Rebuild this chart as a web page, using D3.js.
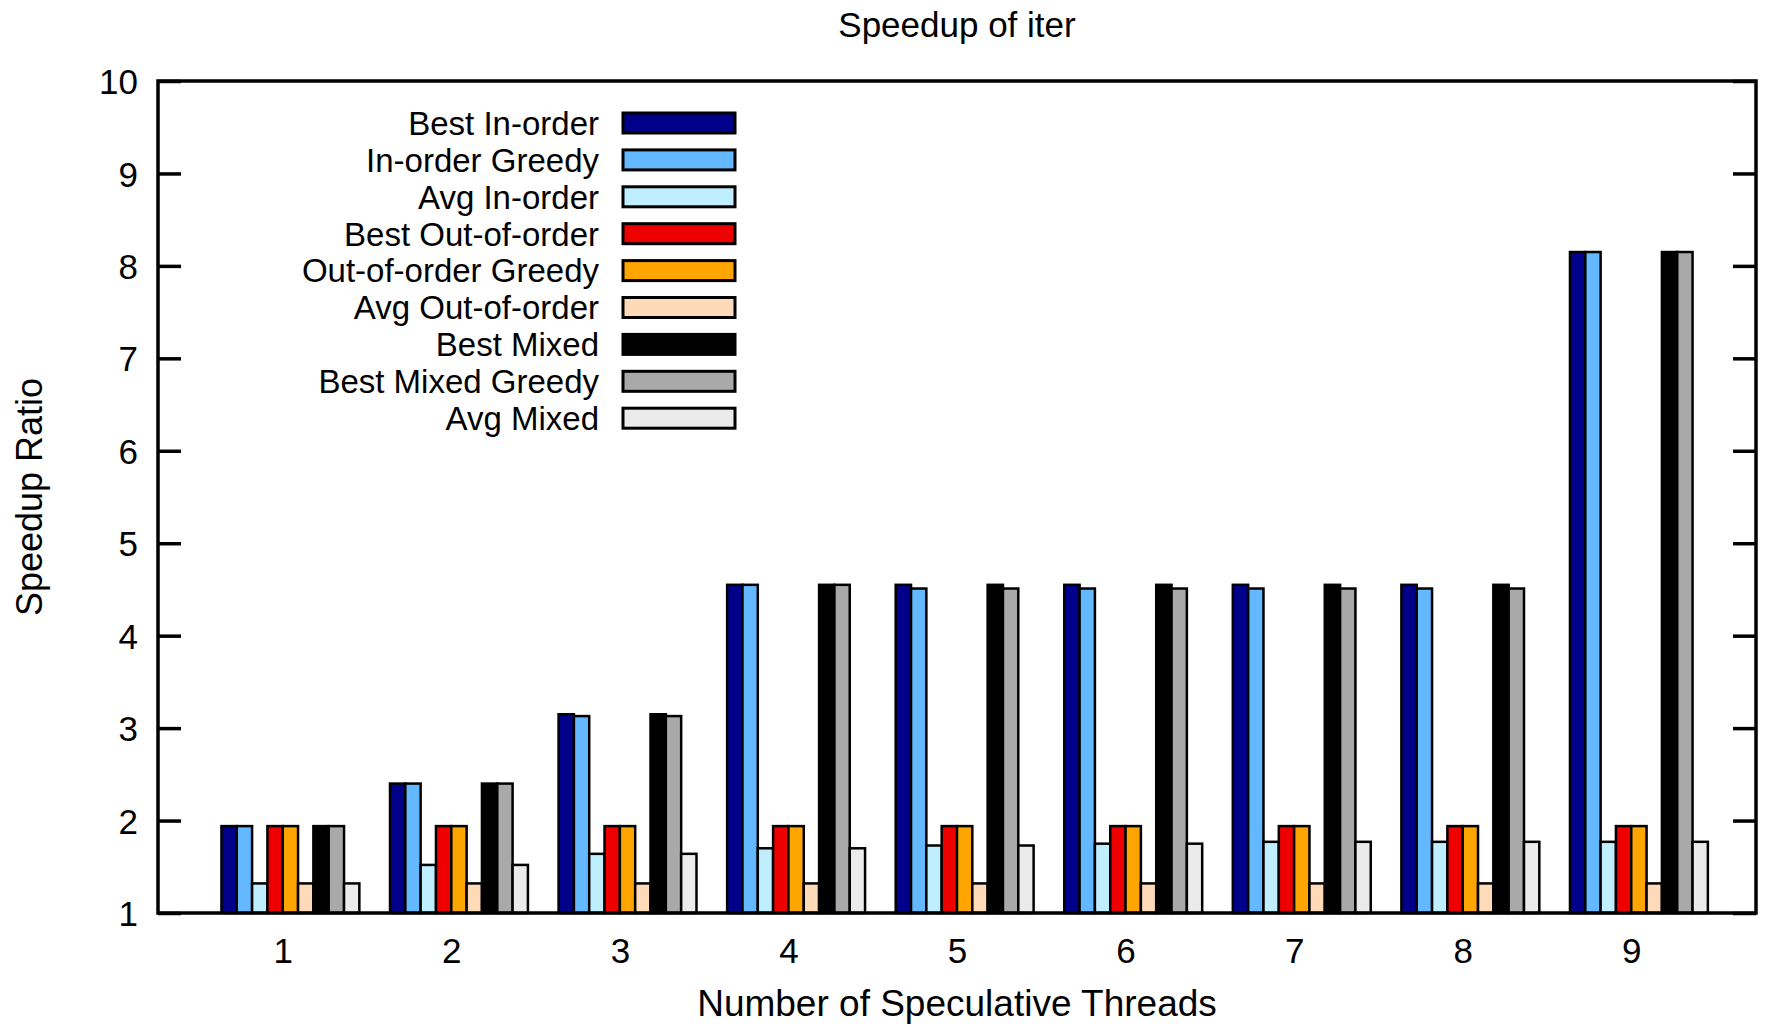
<!DOCTYPE html>
<html>
<head>
<meta charset="utf-8">
<script src="https://cdn.jsdelivr.net/npm/d3@7"></script>
<style>
  html, body { margin: 0; padding: 0; background: #fff; }
  svg text { font-family: "Liberation Sans", Arial, Helvetica, sans-serif; fill: #000; }
</style>
</head>
<body>
<svg id="chart" width="1767" height="1027"></svg>
<script>
// Thread counts on the x axis
const threads = [1, 2, 3, 4, 5, 6, 7, 8, 9];

// Series names, in cluster order
const seriesNames = [
  "Best In-order", "In-order Greedy", "Avg In-order",
  "Best Out-of-order", "Out-of-order Greedy", "Avg Out-of-order",
  "Best Mixed", "Best Mixed Greedy", "Avg Mixed"
];

// Fill colour for each series
const seriesColors = [
  "#00008b", "#63b8ff", "#bfefff",
  "#ee0000", "#ffa500", "#ffdab9",
  "#000000", "#a9a9a9", "#ebebeb"
];

// Speedup ratio per series, one value per thread count
const bestInOrder      = [1.94, 2.40, 3.15, 4.55, 4.55, 4.55, 4.55, 4.55, 8.15];
const inOrderGreedy    = [1.94, 2.40, 3.13, 4.55, 4.51, 4.51, 4.51, 4.51, 8.15];
const avgInOrder       = [1.32, 1.52, 1.64, 1.70, 1.73, 1.75, 1.77, 1.77, 1.77];
const bestOutOfOrder   = [1.94, 1.94, 1.94, 1.94, 1.94, 1.94, 1.94, 1.94, 1.94];
const outOfOrderGreedy = [1.94, 1.94, 1.94, 1.94, 1.94, 1.94, 1.94, 1.94, 1.94];
const avgOutOfOrder    = [1.32, 1.32, 1.32, 1.32, 1.32, 1.32, 1.32, 1.32, 1.32];
const bestMixed        = [1.94, 2.40, 3.15, 4.55, 4.55, 4.55, 4.55, 4.55, 8.15];
const bestMixedGreedy  = [1.94, 2.40, 3.13, 4.55, 4.51, 4.51, 4.51, 4.51, 8.15];
const avgMixed         = [1.32, 1.52, 1.64, 1.70, 1.73, 1.75, 1.77, 1.77, 1.77];

const seriesValues = [
  bestInOrder, inOrderGreedy, avgInOrder,
  bestOutOfOrder, outOfOrderGreedy, avgOutOfOrder,
  bestMixed, bestMixedGreedy, avgMixed
];

const yTicks = [1, 2, 3, 4, 5, 6, 7, 8, 9, 10];

const svg = d3.select("#chart");

const plot = { left: 158, right: 1756, top: 81, bottom: 913 };

const x = d3.scaleLinear().domain([0.26, 9.74]).range([plot.left, plot.right]);
const y = d3.scaleLinear().domain([1, 10]).range([plot.bottom, plot.top]);

// Each cluster is 9 bars plus a gap of 2 bar widths
const barW = (x(2) - x(1)) / 11;

// Bars
const bars = [];
seriesValues.forEach((vals, j) => {
  vals.forEach((v, i) => {
    bars.push({ j, t: threads[i], v });
  });
});

svg.append("g")
  .selectAll("rect")
  .data(bars)
  .join("rect")
  .attr("x", d => x(d.t) + (d.j - 4) * barW)
  .attr("y", d => y(d.v))
  .attr("width", barW)
  .attr("height", d => y(1) - y(d.v))
  .attr("fill", d => seriesColors[d.j])
  .attr("stroke", "#000")
  .attr("stroke-width", 2.5);

// Y axis ticks (left, inward) and mirrored on the right
const yAxisL = d3.axisLeft(y).tickValues(yTicks).tickSize(-23).tickPadding(20).tickFormat(d3.format("d"));
const gL = svg.append("g").attr("transform", `translate(${plot.left},0)`).call(yAxisL);
gL.select(".domain").remove();
gL.selectAll(".tick line").attr("stroke", "#000").attr("stroke-width", 3.5);
gL.selectAll(".tick text").attr("font-size", 35).attr("dy", "0.36em")
  .style("font-family", '"Liberation Sans", Arial, sans-serif');

const yAxisR = d3.axisRight(y).tickValues(yTicks).tickSize(-23).tickFormat("");
const gR = svg.append("g").attr("transform", `translate(${plot.right},0)`).call(yAxisR);
gR.select(".domain").remove();
gR.selectAll(".tick line").attr("stroke", "#000").attr("stroke-width", 3.5);

// X axis labels (no tick marks)
const xAxis = d3.axisBottom(x).tickValues(threads).tickSize(0).tickPadding(25).tickFormat(d3.format("d"));
const gX = svg.append("g").attr("transform", `translate(0,${plot.bottom})`).call(xAxis);
gX.select(".domain").remove();
gX.selectAll(".tick text").attr("font-size", 35)
  .style("font-family", '"Liberation Sans", Arial, sans-serif');

// Plot border
svg.append("rect")
  .attr("x", plot.left).attr("y", plot.top)
  .attr("width", plot.right - plot.left).attr("height", plot.bottom - plot.top)
  .attr("fill", "none").attr("stroke", "#000").attr("stroke-width", 3.5);

// Title
svg.append("text")
  .attr("x", 957).attr("y", 37)
  .attr("text-anchor", "middle").attr("font-size", 35)
  .text("Speedup of iter");

// Axis titles
svg.append("text")
  .attr("x", 957).attr("y", 1016)
  .attr("text-anchor", "middle").attr("font-size", 37)
  .text("Number of Speculative Threads");

svg.append("text")
  .attr("transform", `translate(42,${(plot.top + plot.bottom) / 2}) rotate(-90)`)
  .attr("text-anchor", "middle").attr("font-size", 36)
  .text("Speedup Ratio");

// Legend
const legend = svg.append("g");
const rowH = 36.9;
seriesNames.forEach((name, j) => {
  const cy = 123 + j * rowH;
  legend.append("text")
    .attr("x", 599).attr("y", cy)
    .attr("dy", "0.36em")
    .attr("text-anchor", "end").attr("font-size", 33)
    .text(name);
  legend.append("rect")
    .attr("x", 623).attr("y", cy - 10)
    .attr("width", 112).attr("height", 20)
    .attr("fill", seriesColors[j])
    .attr("stroke", "#000").attr("stroke-width", 3);
});
</script>
</body>
</html>
